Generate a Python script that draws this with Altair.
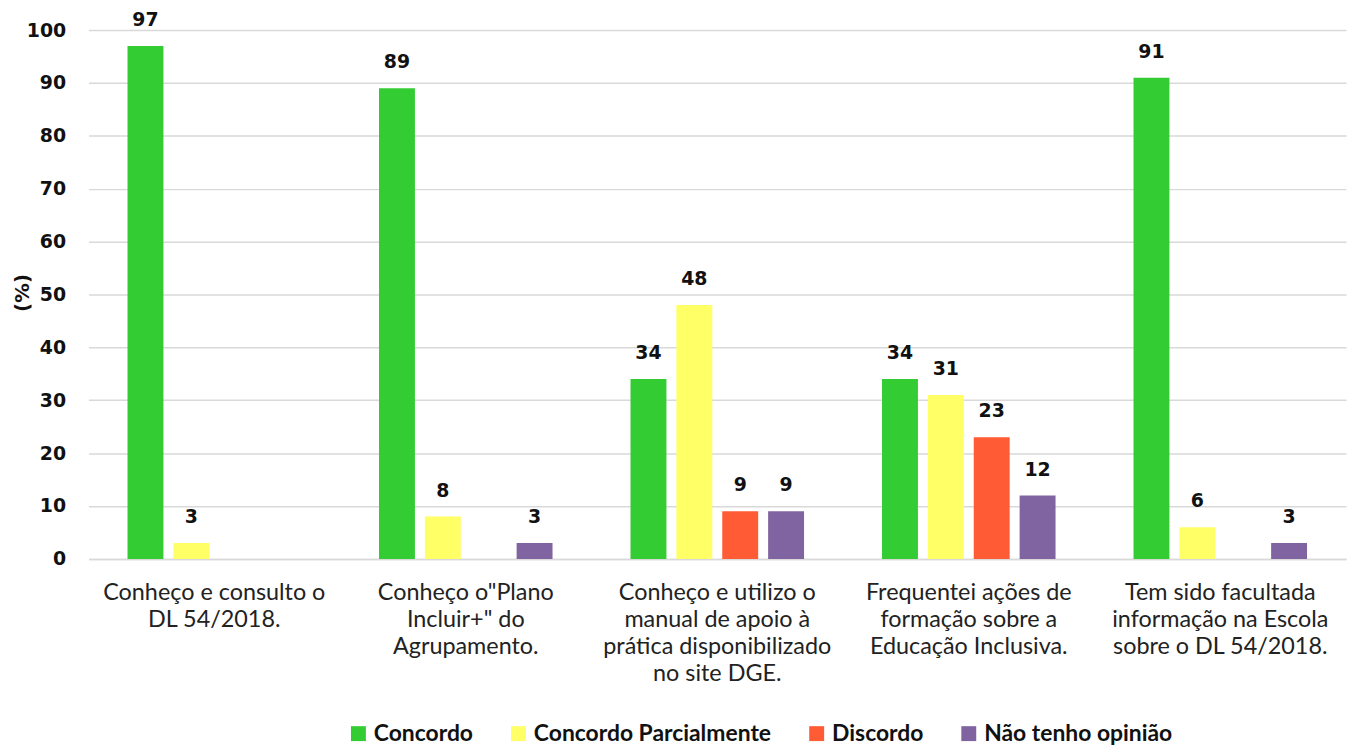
import altair as alt
import pandas as pd

categories = [
    "Conheço e consulto o\nDL 54/2018.",
    "Conheço o\"Plano\nIncluir+\" do\nAgrupamento.",
    "Conheço e utilizo o\nmanual de apoio à\nprática disponibilizado\nno site DGE.",
    "Frequentei ações de\nformação sobre a\nEducação Inclusiva.",
    "Tem sido facultada\ninformação na Escola\nsobre o DL 54/2018.",
]
series = ["Concordo", "Concordo Parcialmente", "Discordo", "Não tenho opinião"]
colors = ["#33CC33", "#FFFF66", "#FF5B35", "#8064A2"]

concordo = [97, 89, 34, 34, 91]
parcial = [3, 8, 48, 31, 6]
discordo = [None, None, 9, 23, None]
sem_opiniao = [None, 3, 9, 12, 3]

rows = []
for vals, s in zip([concordo, parcial, discordo, sem_opiniao], series):
    for c, v in zip(categories, vals):
        if v is not None:
            rows.append({"cat": c, "serie": s, "valor": v})
df = pd.DataFrame(rows)

x = alt.X("cat:N", sort=categories, title=None,
          scale=alt.Scale(paddingInner=0, paddingOuter=0),
          axis=alt.Axis(labelAngle=0, labelExpr="split(datum.label, '\\n')",
                        labelFont="Lato", labelFontSize=23.5, labelColor="#222222",
                        labelLineHeight=27, labelPadding=22, labelBaseline="top",
                        ticks=False, domain=True, domainColor="#d9d9d9",
                        domainWidth=1.5, labelLimit=400))
xo = alt.XOffset("serie:N", sort=series,
                 scale=alt.Scale(domain=series, paddingInner=0.217, paddingOuter=0.85))
y = alt.Y("valor:Q", scale=alt.Scale(domain=[0, 100]), title="(%)",
          axis=alt.Axis(values=list(range(0, 101, 10)), grid=True, gridColor="#d9d9d9",
                        gridWidth=1.5, ticks=False, domain=False,
                        labelFont="DejaVu Sans", labelFontWeight="bold", labelFontSize=19,
                        labelColor="#111111", labelPadding=23,
                        titleFont="DejaVu Sans", titleFontWeight="bold", titleFontSize=20,
                        titleColor="#111111", titleAngle=270, titleX=-66, titleY=264,
                        titleAlign="center", titleBaseline="middle"))
color = alt.Color("serie:N", sort=series,
                  scale=alt.Scale(domain=series, range=colors),
                  legend=alt.Legend(title=None, orient="none", direction="horizontal",
                                    legendX=260, legendY=696,
                                    symbolType="square", symbolSize=225, symbolStrokeWidth=0,
                                    labelFont="Lato", labelFontWeight="bold", labelFontSize=23,
                                    labelColor="#111111", columnPadding=34,
                                    labelLimit=400))

bars = alt.Chart(df).mark_bar().encode(x=x, xOffset=xo, y=y, color=color)
labels = alt.Chart(df).mark_text(font="DejaVu Sans", fontWeight="bold", fontSize=19,
                                 color="#111111", baseline="alphabetic", dy=-20).encode(
    x=x, xOffset=xo, y=y, text="valor:Q")

chart = (bars + labels).properties(
    width=1265, height=532,
    padding={"left": 5, "top": 0, "right": 5, "bottom": 0},
).configure_view(stroke=None)

chart.save("out.html", embed_options={"renderer": "svg", "actions": False})
